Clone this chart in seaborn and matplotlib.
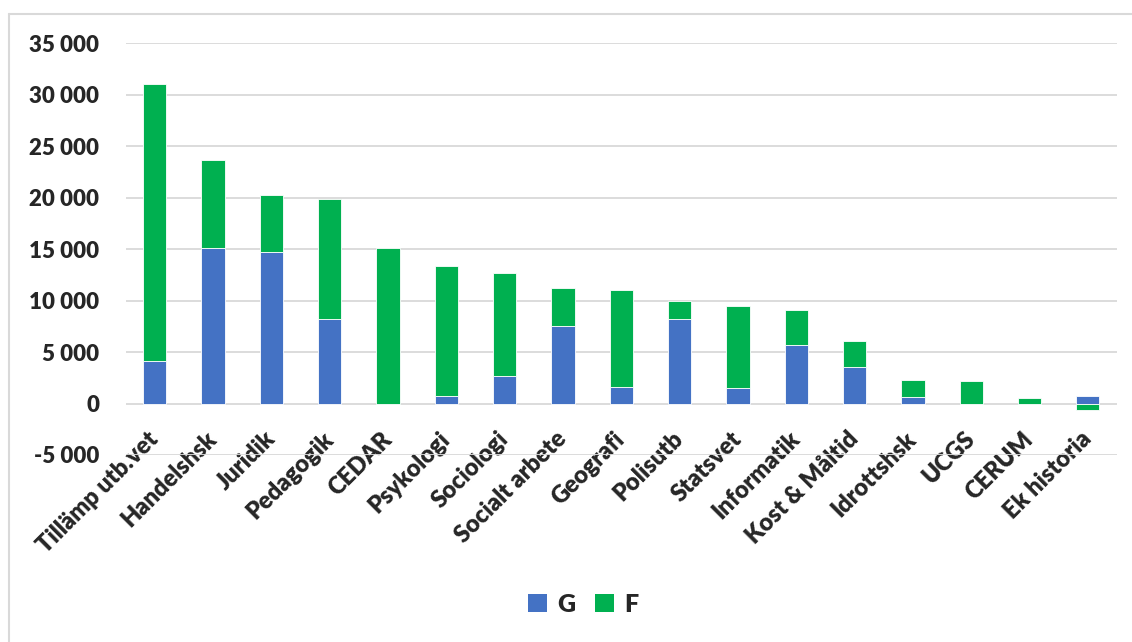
import matplotlib
matplotlib.use("Agg")
import matplotlib.pyplot as plt
from matplotlib.ticker import FuncFormatter, MultipleLocator
from matplotlib.lines import Line2D
from matplotlib.patches import Patch
import seaborn as sns
import numpy as np

categories = ["Tillämp utb.vet", "Handelshsk", "Juridik", "Pedagogik", "CEDAR",
              "Psykologi", "Sociologi", "Socialt arbete", "Geografi", "Polisutb",
              "Statsvet", "Informatik", "Kost & Måltid", "Idrottshsk", "UCGS",
              "CERUM", "Ek historia"]
G = [4150, 15100, 14700, 8200, 0, 700, 2700, 7500, 1600, 8200,
     1550, 5700, 3550, 650, 0, 0, 750]
F = [26850, 8550, 5600, 11700, 15100, 12700, 10000, 3700, 9400, 1800,
     7950, 3350, 2550, 1600, 2150, 580, -620]
series_names = ["G", "F"]
colors = ["#4472C4", "#00B050"]

sns.set_theme(style="white")
plt.rcParams["font.family"] = ["Lato", "DejaVu Sans"]
plt.rcParams["font.weight"] = "heavy"

fig = plt.figure(figsize=(11.32, 6.42), dpi=100)
ax = fig.add_axes([0.111, 0.2913, 0.8757, 0.6413])

G_arr = np.array(G, dtype=float)
F_arr = np.array(F, dtype=float)
F_bottom = np.where(F_arr >= 0, np.maximum(G_arr, 0), 0)

sns.barplot(x=categories, y=G, order=categories, color=colors[0], width=0.4,
            saturation=1, edgecolor="white", linewidth=0.6, ax=ax)
sns.barplot(x=categories, y=F, order=categories, color=colors[1], width=0.4,
            saturation=1, edgecolor="white", linewidth=0.6, bottom=F_bottom, ax=ax)

ax.set_ylim(-5000, 35000)
ax.set_xlim(-0.5, len(categories) - 0.5)
ax.yaxis.set_major_locator(MultipleLocator(5000))
ax.yaxis.set_major_formatter(FuncFormatter(lambda v, p: f"{int(v):,}".replace(",", " ")))
ax.grid(axis="y", color="#D9D9D9", linewidth=1.3)
ax.set_axisbelow(True)
for s in ["top", "right", "left"]:
    ax.spines[s].set_visible(False)
ax.spines["bottom"].set_position(("data", 0))
ax.spines["bottom"].set_visible(False)
ax.tick_params(axis="y", length=0, pad=19, labelsize=16)
ax.tick_params(axis="x", length=0, pad=23, labelsize=17)
ax.set_xlabel("")
ax.set_ylabel("")
ax.set_xticks(range(len(categories)))
ax.set_xticklabels(categories, rotation=45, ha="right", va="center",
                   rotation_mode="anchor")

handles = [Patch(facecolor=c, edgecolor="none") for c in colors]
fig.legend(handles, series_names, loc="center", bbox_to_anchor=(583 / 1132, 1 - 605 / 642),
           ncol=2, frameon=False, prop={"family": "Lato", "weight": "heavy", "size": 18},
           handlelength=0.75, handleheight=0.75, columnspacing=0.8, handletextpad=0.4)

# chart area frame (top and left edges visible)
fig.add_artist(Line2D([9 / 1132, 1.0], [1 - 14 / 642, 1 - 14 / 642], color="#D9D9D9", linewidth=1.5,
                      transform=fig.transFigure))
fig.add_artist(Line2D([9 / 1132, 9 / 1132], [0, 1 - 14 / 642], color="#D9D9D9", linewidth=1.5,
                      transform=fig.transFigure))

fig.canvas.draw()
for lbl in ax.get_xticklabels() + ax.get_yticklabels():
    lbl.set_fontfamily("Lato")
    lbl.set_fontweight("heavy")

fig.savefig("out.png", dpi=100, facecolor="white")
